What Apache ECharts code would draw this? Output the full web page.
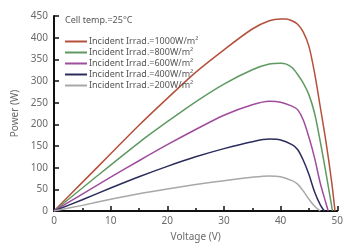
<!DOCTYPE html>
<html>
<head>
<meta charset="utf-8">
<script src="https://cdn.jsdelivr.net/npm/echarts@6/dist/echarts.min.js"></script>
<style>
  html, body { margin: 0; padding: 0; background: #fff; }
  #chart { width: 346px; height: 247px; }
</style>
</head>
<body>
<div id="chart"></div>
<script>
const names = [
  'Incident Irrad.=1000W/m²',
  'Incident Irrad.=800W/m²',
  'Incident Irrad.=600W/m²',
  'Incident Irrad.=400W/m²',
  'Incident Irrad.=200W/m²'
]
const colors = ['#b4503c', '#5e9a62', '#a04c9e', '#2c2c5c', '#a8a8a8']

// voltage points per curve (V) and power (W)
const v1000 = [0, 5, 10, 15, 20, 25, 30, 35, 38, 40, 41, 42, 43, 44, 45, 46, 47, 48, 49, 49.6]
const p1000 = [0, 66, 132, 198, 260, 320, 372, 420, 439, 443, 443, 439, 431, 413, 380, 318, 240, 160, 68, 0]
const v800 = [0, 5, 10, 15, 20, 25, 30, 35, 38, 40, 41, 42, 43, 44, 45, 46, 47, 48, 49, 49.15]
const p800 = [0, 53, 106, 158, 206, 252, 293, 326, 339, 341, 339, 331, 315, 295, 268, 225, 160, 88, 12, 0]
const v600 = [0, 5, 10, 15, 20, 25, 30, 35, 38, 40, 42, 43, 44, 45, 46, 47, 48, 48.4]
const p600 = [0, 39, 78, 116, 153, 188, 221, 245, 253, 251, 242, 234, 210, 170, 122, 64, 18, 0]
const v400 = [0, 5, 10, 15, 20, 25, 30, 35, 38, 40, 42, 43, 44, 45, 46, 47, 47.7]
const p400 = [0, 26, 53, 79, 103, 125, 144, 160, 166, 164, 153, 142, 117, 84, 44, 14, 0]
const v200 = [0, 5, 10, 15, 20, 25, 30, 35, 38, 40, 42, 43, 44, 45, 46, 47]
const p200 = [0, 13, 27, 40, 51, 61, 70, 78, 81, 79, 70, 62, 46, 27, 11, 0]

const voltages = [v1000, v800, v600, v400, v200]
const powers = [p1000, p800, p600, p400, p200]

const labelColor = '#6a6a6a'
const font = 'Noto Sans'

const chart = echarts.init(document.getElementById('chart'))

const option = {
  backgroundColor: '#fff',
  animation: false,
  title: {
    text: 'Cell temp.=25°C',
    left: 60,
    top: 11,
    textStyle: { fontSize: 9, fontWeight: 'normal', color: '#555', fontFamily: font }
  },
  legend: {
    orient: 'vertical',
    left: 60,
    top: 32,
    itemGap: 2,
    itemWidth: 22,
    itemHeight: 2,
    icon: 'rect',
    textStyle: { fontSize: 9, color: '#555', fontFamily: font, padding: [0, 0, 0, -3] },
    data: names
  },
  grid: { left: 54, right: 4, top: 16, bottom: 32 },
  xAxis: {
    type: 'value',
    min: 0,
    max: 50,
    interval: 10,
    name: 'Voltage (V)',
    nameLocation: 'middle',
    nameGap: 21,
    nameTextStyle: { fontSize: 10, color: labelColor, fontFamily: font },
    axisLine: { lineStyle: { color: '#111', width: 2 } },
    axisTick: { inside: true, length: 5, lineStyle: { color: '#111', width: 1.5 } },
    minorTick: { show: true, splitNumber: 2, length: 3, lineStyle: { color: '#111', width: 1.5 } },
    axisLabel: { fontSize: 10, color: labelColor, fontFamily: font, margin: 5 },
    splitLine: { show: false }
  },
  yAxis: {
    type: 'value',
    min: 0,
    max: 450,
    interval: 50,
    name: 'Power (W)',
    nameLocation: 'middle',
    nameGap: 34,
    nameTextStyle: { fontSize: 10, color: labelColor, fontFamily: font },
    axisLine: { show: true, lineStyle: { color: '#111', width: 2 } },
    axisTick: { show: true, inside: true, length: 5, lineStyle: { color: '#111', width: 1.5 } },
    axisLabel: { fontSize: 10, color: labelColor, fontFamily: font, margin: 6 },
    splitLine: { show: false }
  },
  series: names.map((n, i) => ({
    name: n,
    type: 'line',
    smooth: 0.3,
    showSymbol: false,
    symbol: 'none',
    lineStyle: { width: 1.5, color: colors[i] },
    itemStyle: { color: colors[i] },
    data: voltages[i].map((v, j) => [v, powers[i][j]])
  }))
}

chart.setOption(option)
</script>
</body>
</html>
